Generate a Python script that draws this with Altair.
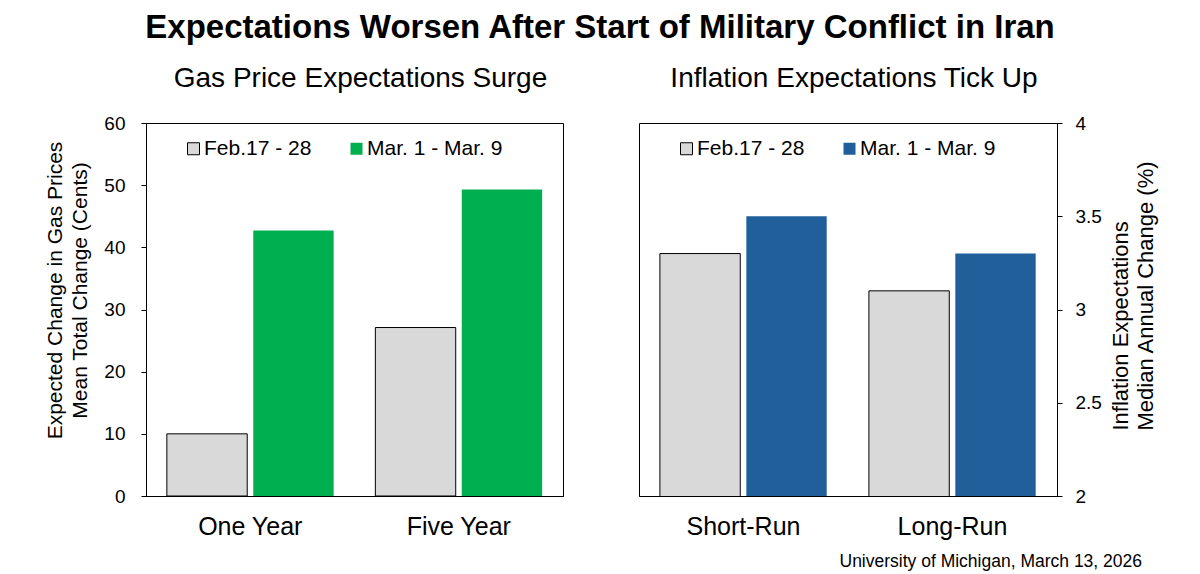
import altair as alt
import pandas as pd

FONT = "Liberation Sans"

TITLE = "Expectations Worsen After Start of Military Conflict in Iran"
SOURCE = "University of Michigan, March 13, 2026"

periods = ["Feb.17 - 28", "Mar. 1 - Mar. 9"]

gas_title = "Gas Price Expectations Surge"
gas_categories = ["One Year", "Five Year"]
gas_feb = [10.0, 27.1]
gas_mar = [42.7, 49.3]
gas_colors = ["#D9D9D9", "#00B050"]
gas_axis_title = ["Expected Change in Gas Prices", "Mean Total Change (Cents)"]
gas_ticks = [0, 10, 20, 30, 40, 50, 60]

inf_title = "Inflation Expectations Tick Up"
inf_categories = ["Short-Run", "Long-Run"]
inf_feb = [3.3, 3.1]
inf_mar = [3.5, 3.3]
inf_colors = ["#D9D9D9", "#215F9A"]
inf_axis_title = ["Inflation Expectations", "Median Annual Change (%)"]
inf_ticks = [2, 2.5, 3, 3.5, 4]


def frame(categories, feb, mar):
    rows = []
    for c, a, b in zip(categories, feb, mar):
        rows.append({"category": c, "period": periods[0], "value": a})
        rows.append({"category": c, "period": periods[1], "value": b})
    return pd.DataFrame(rows)


def panel(df, categories, colors, subtitle, ytitle, ticks, domain, orient):
    if orient == "left":
        yaxis = alt.Axis(
            orient="left", title=ytitle, values=ticks, grid=False, format="d",
            tickSize=5, tickColor="black", domainColor="black",
            labelFontSize=19, labelPadding=16, labelColor="black", labelAlign="right",
            titleFontSize=21, titleFontWeight="normal", titleColor="black",
            titleLineHeight=25, titleBaseline="alphabetic", titleX=-85, titleY=167,
        )
    else:
        yaxis = alt.Axis(
            orient="right", title=ytitle, values=ticks, grid=False, format=".1~f",
            tickSize=5, tickColor="black", domainColor="black",
            labelFontSize=19, labelPadding=13, labelColor="black", labelAlign="left",
            titleFontSize=22, titleFontWeight="normal", titleColor="black",
            titleLineHeight=25, titleAngle=270, titleAlign="left",
            titleBaseline="top", titleX=53, titleY=307,
        )
    legend = alt.Legend(
        title=None, orient="none", legendX=37, legendY=15, direction="horizontal",
        symbolType="square", symbolSize=144, symbolStrokeWidth=1,
        labelFontSize=21, labelColor="black", labelOffset=0, columnPadding=34,
        labelFont=FONT,
    )
    bars = alt.Chart(df).mark_bar(strokeWidth=1, clip=True).encode(
        x=alt.X("category:N", sort=categories,
                scale=alt.Scale(paddingInner=0.2, paddingOuter=0.1),
                axis=alt.Axis(title=None, labelAngle=0, ticks=False, domainColor="black",
                              labelFontSize=25, labelPadding=18, labelColor="black")),
        xOffset=alt.XOffset("period:N", sort=periods,
                            scale=alt.Scale(paddingInner=0.07, paddingOuter=0)),
        y=alt.Y("value:Q", scale=alt.Scale(domain=domain, nice=False, zero=False), axis=yaxis),
        fill=alt.Fill("period:N", sort=periods,
                      scale=alt.Scale(domain=periods, range=colors), legend=legend),
        stroke=alt.Stroke("period:N", sort=periods,
                          scale=alt.Scale(domain=periods, range=["black", "transparent"]),
                          legend=legend),
    )
    return bars.properties(
        width=417 if orient == "left" else 418,
        height=373,
        title=alt.TitleParams(subtitle, fontSize=28, fontWeight="normal", offset=21,
                              anchor="middle", dx=6, color="black", font=FONT),
    )


gas = panel(frame(gas_categories, gas_feb, gas_mar), gas_categories, gas_colors,
            gas_title, gas_axis_title, gas_ticks, [0, 60], "left")

inf_bars = panel(frame(inf_categories, inf_feb, inf_mar), inf_categories, inf_colors,
                 inf_title, inf_axis_title, inf_ticks, [2, 4], "right")

source_text = alt.Chart(pd.DataFrame({"source": [SOURCE]})).mark_text(
    align="right", baseline="alphabetic", fontSize=17.5, color="black", font=FONT
).encode(x=alt.value(503), y=alt.value(444), text="source:N")

inf = alt.layer(inf_bars, source_text)

chart = alt.hconcat(gas, inf, spacing=74).resolve_scale(
    fill="independent", stroke="independent", y="independent"
).resolve_legend(fill="independent", stroke="independent").properties(
    title=alt.TitleParams(TITLE, fontSize=33, fontWeight="bold", anchor="middle",
                          offset=20, color="black", font=FONT),
    padding={"left": 43, "top": 11, "right": 10, "bottom": 5},
    background="white",
).configure(font=FONT).configure_view(stroke="black", strokeWidth=1).configure_axis(
    labelFont=FONT, titleFont=FONT
)

chart.save("out.html", embed_options={"renderer": "svg", "actions": False})
